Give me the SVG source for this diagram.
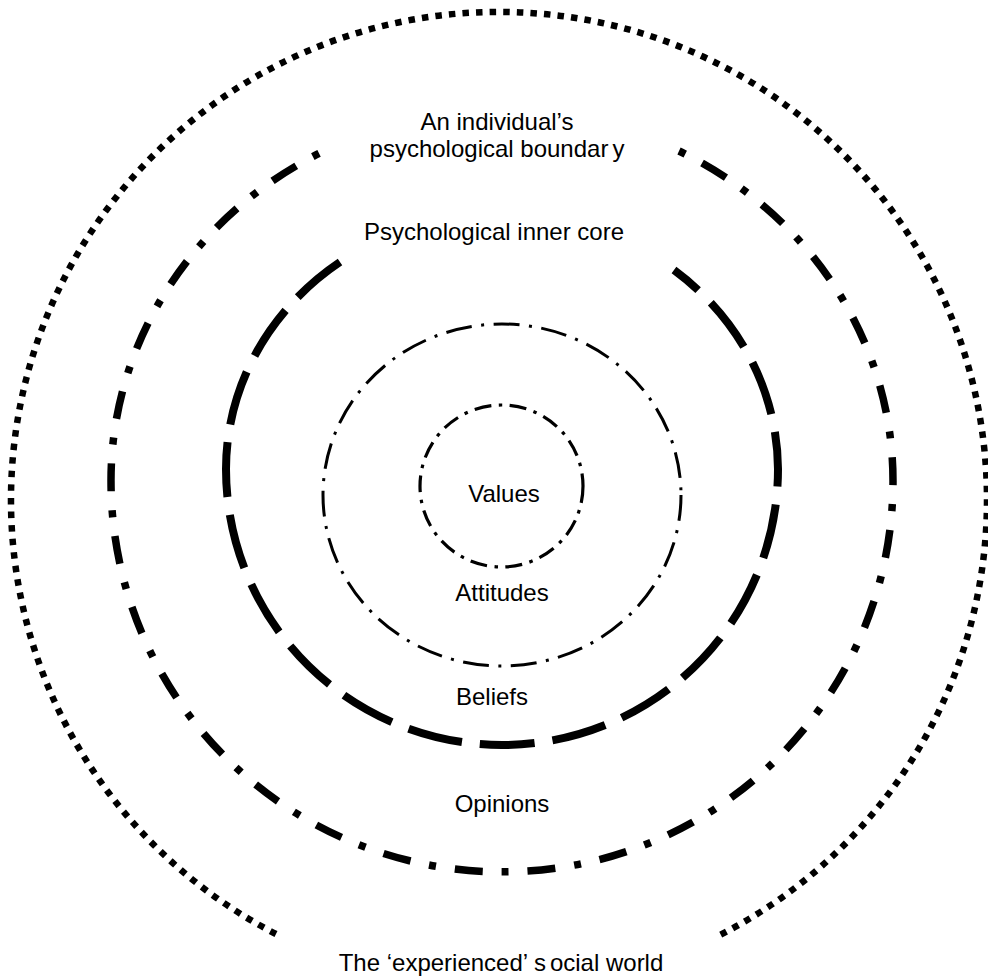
<svg xmlns="http://www.w3.org/2000/svg" width="988" height="977" viewBox="0 0 988 977">
  <style>
    .ring { fill: none; stroke: #000; stroke-linecap: butt; }
    .world { stroke-width: 6.5; stroke-dasharray: 6.5 7.1; }
    .boundary { stroke-width: 7.5; stroke-dasharray: 7 19 28 19; }
    .core { stroke-width: 8; stroke-dasharray: 55 18; }
    .attitudes { stroke-width: 3; stroke-dasharray: 26 9.5 3 9.5; }
    .values { stroke-width: 3.2; stroke-dasharray: 17 7.5 3.5 7.5; }
    text { font-family: "Liberation Sans", Arial, Helvetica, sans-serif; font-size: 24px; fill: #000; text-anchor: middle; }
  </style>
  <rect width="988" height="977" fill="#fff"/>

  <!-- outer ring: the experienced social world, open at the bottom -->
  <g id="social-world">
    <path class="ring world" d="M 276 934 A 488 488 0 1 1 720 935"/>
    <text x="501" y="971">The ‘experienced’ s<tspan dx="4">ocial world</tspan></text>
  </g>

  <!-- psychological boundary, open at the top -->
  <g id="psychological-boundary">
    <path class="ring boundary" d="M 679 151 A 391 370 0 0 1 893 481 A 391 391 0 0 1 111 481 A 391 370 0 0 1 320 153"/>
    <text x="497" y="130">An individual’s</text>
    <text x="497" y="157">psychological boundar<tspan dx="4">y</tspan></text>
    <text x="502" y="812">Opinions</text>
  </g>

  <!-- psychological inner core, open at the top -->
  <g id="inner-core">
    <path class="ring core" d="M 340 262 A 276 256 0 0 0 226 469 A 276 276 0 0 0 778 469 A 276 256 0 0 0 674 270"/>
    <text x="494" y="240">Psychological inner core</text>
    <text x="492" y="705">Beliefs</text>
  </g>

  <!-- attitudes ring -->
  <g id="attitudes">
    <ellipse class="ring attitudes" cx="502" cy="495" rx="179" ry="171"/>
    <text x="502" y="601">Attitudes</text>
  </g>

  <!-- values ring at the centre -->
  <g id="values">
    <ellipse class="ring values" cx="501.5" cy="486" rx="81.5" ry="81"/>
    <text x="504" y="502">Values</text>
  </g>

  <g id="connectors"></g>
</svg>
